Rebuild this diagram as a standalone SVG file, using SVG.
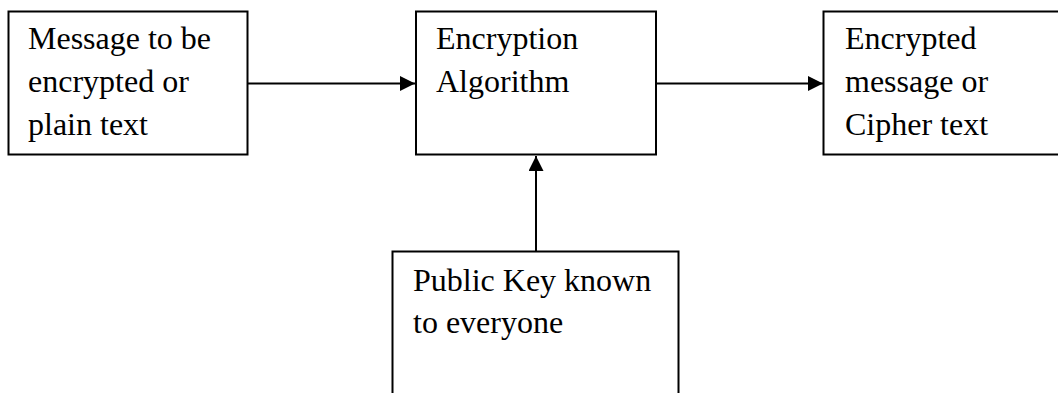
<svg xmlns="http://www.w3.org/2000/svg" width="1058" height="393" viewBox="0 0 1058 393">
<style>
.box{fill:#fff;stroke:#000;stroke-width:2}
.t{font-family:"Liberation Serif","Times New Roman",serif;font-size:32px;fill:#000}
.c{stroke:#000;stroke-width:2;fill:none}
</style>
<defs>
<marker id="ah" markerWidth="15" markerHeight="15" refX="15" refY="7.5" orient="auto" markerUnits="userSpaceOnUse">
<path d="M0,0 L15,7.5 L0,15 Z" fill="#000"/>
</marker>
</defs>
<rect width="1058" height="393" fill="#fff"/>
<g id="plain">
<rect class="box" x="8.5" y="11.5" width="239" height="143"/>
<text class="t" x="28" y="49">Message to be</text>
<text class="t" x="28" y="92">encrypted or</text>
<text class="t" x="28" y="135">plain text</text>
</g>
<g id="algo">
<rect class="box" x="416" y="11.5" width="240" height="143"/>
<text class="t" x="436" y="49">Encryption</text>
<text class="t" x="436" y="92">Algorithm</text>
</g>
<g id="cipher">
<rect class="box" x="823.5" y="11.5" width="260" height="143"/>
<text class="t" x="845" y="49">Encrypted</text>
<text class="t" x="845" y="92">message or</text>
<text class="t" x="845" y="135">Cipher text</text>
</g>
<g id="key">
<rect class="box" x="392.5" y="251.5" width="286" height="200"/>
<text class="t" x="413" y="291">Public Key known</text>
<text class="t" x="413" y="333">to everyone</text>
</g>
<g id="connectors">
<line class="c" x1="248" y1="83.5" x2="415" y2="83.5" marker-end="url(#ah)"/>
<line class="c" x1="657" y1="83.5" x2="823" y2="83.5" marker-end="url(#ah)"/>
<line class="c" x1="536" y1="251" x2="536" y2="156" marker-end="url(#ah)"/>
</g>
</svg>
